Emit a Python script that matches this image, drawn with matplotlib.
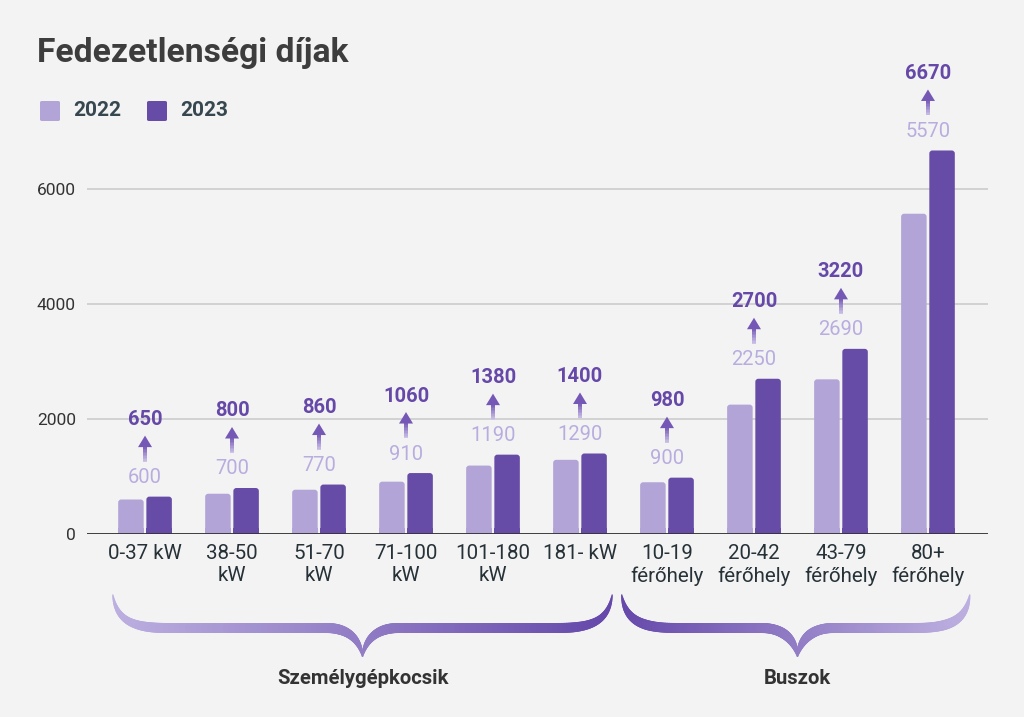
import numpy as np
import matplotlib
matplotlib.use("Agg")
import matplotlib.pyplot as plt
from matplotlib.collections import LineCollection, PolyCollection
from matplotlib.patches import Polygon, Rectangle, FancyBboxPatch
import matplotlib.colors as mcolors

plt.rcParams['font.family'] = ['Roboto', 'DejaVu Sans']

categories = ["0-37 kW", "38-50\nkW", "51-70\nkW", "71-100\nkW", "101-180\nkW", "181- kW",
              "10-19\nférőhely", "20-42\nférőhely", "43-79\nférőhely", "80+\nférőhely"]
values_2022 = [600, 700, 770, 910, 1190, 1290, 900, 2250, 2690, 5570]
values_2023 = [650, 800, 860, 1060, 1380, 1400, 980, 2700, 3220, 6670]
series_names = ["2022", "2023"]
groups = [("Személygépkocsik", 0, 5), ("Buszok", 6, 9)]
yticks = [0, 2000, 4000, 6000]

BG = "#f3f3f3"
LIGHT = "#b2a4d6"
DARK = "#664ca6"
LIGHT_TXT = "#b9addf"
DARK_TXT = "#6548a8"

W, H = 1024, 717
fig = plt.figure(figsize=(W / 100, H / 100), dpi=100, facecolor=BG)
ax_left, ax_right, ax_bottom_px = 87, 988, 534
ymax = 7000
px_per_unit = 115.0 / 2000
ax_top_px = ax_bottom_px - ymax * px_per_unit
ax = fig.add_axes([ax_left / W, 1 - ax_bottom_px / H, (ax_right - ax_left) / W,
                   (ax_bottom_px - ax_top_px) / H])
ax.set_facecolor(BG)

x = np.arange(len(categories))
bw = 0.293
off = 0.162


def rounded_bar(xc, h, color):
    r_x = 0.035
    r_y = 3 / px_per_unit
    ax.add_patch(FancyBboxPatch((xc - bw / 2, 0), bw, h,
                                boxstyle=f"round,pad=0,rounding_size={r_x}",
                                mutation_aspect=r_y / r_x,
                                facecolor=color, edgecolor='none', zorder=3))
    ax.add_patch(Rectangle((xc - bw / 2, 0), bw, min(h, 2 * r_y), facecolor=color,
                           edgecolor='none', zorder=3))


for i in range(len(categories)):
    rounded_bar(x[i] - off, values_2022[i], LIGHT)
    rounded_bar(x[i] + off, values_2023[i], DARK)

ax.set_xlim(-0.667, 9.69)
ax.set_ylim(0, ymax)
ax.set_yticks(yticks)
ax.set_yticklabels([str(v) for v in yticks], fontsize=12.5, color="#333333")
ax.set_xticks(x)
ax.set_xticklabels(categories, fontsize=14.8, color="#263238", linespacing=1.25)
ax.tick_params(axis='both', length=0)
ax.tick_params(axis='y', pad=8)
ax.tick_params(axis='x', pad=7)
for s in ax.spines.values():
    s.set_visible(False)
ax.grid(axis='y', color="#cccccc", linewidth=1.2, zorder=0)
ax.set_axisbelow(True)
ax.axhline(0, color="#333333", linewidth=1.3, zorder=4)

fig.canvas.draw()


def data_to_pxtop(xd, yd):
    dx, dy = ax.transData.transform((xd, yd))
    return dx, H - dy


def pxtop_to_fig(px, py):
    return px / W, 1 - py / H


light_rgb = np.array(mcolors.to_rgb("#bdb0e0"))
dark_rgb = np.array(mcolors.to_rgb("#6548aa"))
shaft_lo = np.array(mcolors.to_rgb("#d2c9ec"))
shaft_hi = np.array(mcolors.to_rgb("#7a5fb8"))

# annotations
for i in range(len(categories)):
    top = max(values_2022[i], values_2023[i])
    cx, ty = data_to_pxtop(x[i], top)
    fx, fy = pxtop_to_fig(cx, ty - 19)
    fig.text(fx, fy, str(values_2022[i]), ha='center', va='center', fontsize=14.5,
             color=LIGHT_TXT)
    fx, fy = pxtop_to_fig(cx, ty - 77)
    fig.text(fx, fy, str(values_2023[i]), ha='center', va='center', fontsize=14.5,
             color=DARK_TXT, fontweight='bold')
    # gradient shaft made of overlapping quads
    y0, y1 = ty - 35, ty - 50
    n = 10
    ys = np.linspace(y0, y1, n + 1)
    polys, cols = [], []
    hw = 2.3
    for k in range(n):
        ya, yb = ys[k] + (0.6 if k > 0 else 0), ys[k + 1] - 0.6
        polys.append([pxtop_to_fig(cx - hw, ya), pxtop_to_fig(cx + hw, ya),
                      pxtop_to_fig(cx + hw, yb), pxtop_to_fig(cx - hw, yb)])
        t = (k + 0.5) / n
        cols.append(shaft_lo * (1 - t) + shaft_hi * t)
    pc = PolyCollection(polys, facecolors=cols, edgecolors='none',
                        transform=fig.transFigure)
    fig.add_artist(pc)
    head = [pxtop_to_fig(cx - 7, ty - 49.5), pxtop_to_fig(cx + 7, ty - 49.5),
            pxtop_to_fig(cx, ty - 61)]
    fig.add_artist(Polygon(head, closed=True, facecolor="#7558b5", edgecolor='none',
                           transform=fig.transFigure))


def bezier(p0, p1, p2, p3, n=40):
    t = np.linspace(0, 1, n)[:, None]
    p0, p1, p2, p3 = map(np.array, (p0, p1, p2, p3))
    return (1 - t) ** 3 * p0 + 3 * (1 - t) ** 2 * t * p1 + 3 * (1 - t) * t ** 2 * p2 + t ** 3 * p3


def half_brace(xe, xm, y_top, y_flat, y_tip, d):
    c1 = bezier((xe, y_top), (xe + d * 4, y_flat - 6), (xe + d * 22, y_flat),
                (xe + d * 55, y_flat))
    flat_end = xm - d * 36
    c2 = np.column_stack([np.linspace(xe + d * 55, flat_end, 30), np.full(30, y_flat)])
    c3 = bezier((flat_end, y_flat), (xm - d * 18, y_flat), (xm - d * 4, y_flat + 8),
                (xm, y_tip))
    pts = np.vstack([c1, c2[1:], c3[1:]])
    s = np.concatenate([[0], np.cumsum(np.hypot(*np.diff(pts, axis=0).T))])
    s = s / s[-1]
    wmax = 10.0
    w = np.where(s < 0.22, 1.2 + (wmax - 1.2) * np.sin(np.clip(s / 0.22, 0, 1) * np.pi / 2),
                 np.where(s > 0.85,
                          1.5 + (wmax - 1.5) * np.cos(np.clip((s - 0.85) / 0.15, 0, 1) * np.pi / 2),
                          wmax))
    return pts, w


def draw_brace(x_left, x_right, x_mid, light_left):
    y_top, y_flat, y_tip = 595, 628, 656
    pl, wl = half_brace(x_left, x_mid, y_top, y_flat, y_tip, +1)
    pr, wr = half_brace(x_right, x_mid, y_top, y_flat, y_tip, -1)
    pts = np.vstack([pl, pr[::-1]])
    ws = np.concatenate([wl, wr[::-1]])
    segs, cols, lws = [], [], []
    for k in range(len(pts) - 1):
        a, b = pts[k], pts[k + 1]
        if np.allclose(a, b):
            continue
        segs.append([pxtop_to_fig(*a), pxtop_to_fig(*b)])
        t = ((a[0] + b[0]) / 2 - x_left) / (x_right - x_left)
        if not light_left:
            t = 1 - t
        cols.append(light_rgb * (1 - t) + dark_rgb * t)
        lws.append(0.5 * (ws[k] + ws[k + 1]) * 0.72)
    fig.add_artist(LineCollection(segs, colors=cols, linewidths=lws,
                                  transform=fig.transFigure, capstyle='round',
                                  joinstyle='round'))


brace_pad = [(0.37, 0.37), (0.52, 0.48)]
for gi, (name, a, b) in enumerate(groups):
    xl, _ = data_to_pxtop(a - brace_pad[gi][0], 0)
    xr, _ = data_to_pxtop(b + brace_pad[gi][1], 0)
    xm, _ = data_to_pxtop((a + b) / 2, 0)
    draw_brace(xl, xr, xm, light_left=(gi == 0))
    fx, fy = pxtop_to_fig(xm, 679)
    fig.text(fx, fy, name, ha='center', va='center', fontsize=14.6,
             fontweight='bold', color="#333333")

fig.text(37 / W, 1 - 53 / H, "Fedezetlenségi díjak", fontsize=24.2, fontweight='bold',
         color="#3d3d3d", ha='left', va='center')

for j, (name, col) in enumerate(zip(series_names, [LIGHT, DARK])):
    sx = 40 + j * 107
    fig.add_artist(FancyBboxPatch((sx / W, 1 - 121 / H), 20 / W, 20 / H,
                                  boxstyle="round,pad=0,rounding_size=0.002",
                                  facecolor=col, edgecolor='none',
                                  transform=fig.transFigure))
    fig.text((sx + 33) / W, 1 - 111 / H, name, fontsize=15, fontweight='bold',
             color="#37474f", ha='left', va='center')

fig.savefig("out.png", dpi=100, facecolor=BG)
